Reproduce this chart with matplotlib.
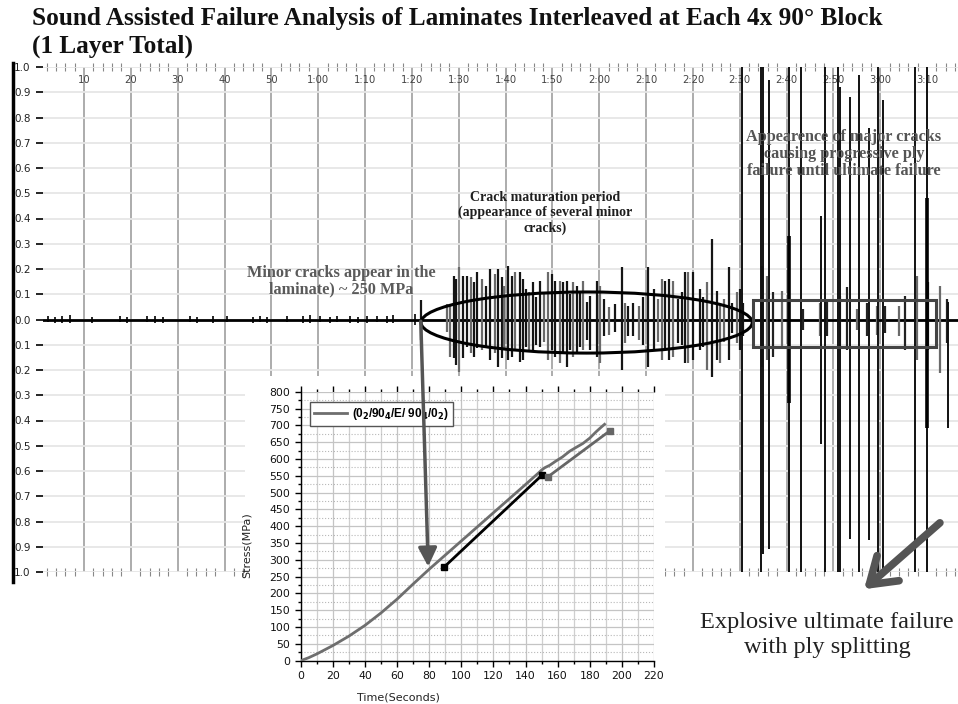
import matplotlib
matplotlib.use("Agg")
import matplotlib.pyplot as plt
from matplotlib.patches import Ellipse, Rectangle, ConnectionPatch, FancyArrowPatch
from matplotlib.lines import Line2D
from matplotlib.ticker import MultipleLocator

plt.rcParams["mathtext.default"] = "bf"

# ------------------------------------------------------------------ data
# main acoustic trace: spike time (s), positive and negative excursion
quiet_t = [2.3, 3.8, 5.3, 7.0, 11.7, 17.7, 19.2, 23.4, 25.1, 26.9, 32.6, 34.1, 37.5, 40.5, 46.1,
           47.6, 49.1, 53.3, 56.8, 58.2, 60.4, 62.5, 64.0, 66.8, 68.5, 70.4, 72.6, 74.7, 75.9, 80.7]
quiet_up = [0.012, 0.010, 0.014, 0.016, 0.010, 0.012, 0.010, 0.012, 0.014, 0.010, 0.012, 0.010, 0.014, 0.012, 0.010,
            0.012, 0.010, 0.012, 0.014, 0.016, 0.012, 0.010, 0.012, 0.012, 0.010, 0.014, 0.012, 0.012, 0.016, 0.020]
quiet_dn = [0.010, 0.012, 0.012, 0.014, 0.012, 0.010, 0.012, 0.010, 0.012, 0.012, 0.010, 0.012, 0.012, 0.010, 0.012,
            0.010, 0.012, 0.010, 0.012, 0.014, 0.010, 0.012, 0.010, 0.014, 0.012, 0.012, 0.010, 0.014, 0.014, 0.020]

crack_t = [81.9, 88.1, 88.9, 89.4, 90.1, 91.0, 91.7, 92.6, 93.3, 94.0, 94.9, 95.8, 96.7, 97.8, 98.3,
           99.2, 99.7, 100.6, 101.3, 102.0, 103.1, 103.7, 104.9, 105.9, 107.4, 109.1, 109.9, 110.6, 111.6, 112.3,
           113.1, 114.5, 115.2, 115.9, 116.6, 118.0, 119.5, 120.2, 121.0, 124.8, 125.5, 126.2, 127.3, 128.4, 130.5,
           131.6, 133.4, 134.1, 134.8, 135.7, 136.9, 138.3, 139.0, 140.1, 141.5, 143.0, 144.0, 145.1, 145.7, 147.6,
           148.3, 149.4, 150.1, 150.8,
           87.4, 104.3, 106.6, 108.2, 113.8, 117.3, 122.1, 123.4, 129.4, 132.5, 137.6, 142.2, 146.6]
crack_up = [0.076, 0.053, 0.173, 0.160, 0.207, 0.173, 0.173, 0.167, 0.147, 0.187, 0.160, 0.133, 0.200, 0.180, 0.200,
            0.167, 0.133, 0.213, 0.173, 0.187, 0.187, 0.160, 0.107, 0.147, 0.153, 0.187, 0.180, 0.153, 0.153, 0.147,
            0.153, 0.147, 0.133, 0.107, 0.153, 0.093, 0.153, 0.133, 0.080, 0.207, 0.067, 0.053, 0.067, 0.053, 0.207,
            0.120, 0.160, 0.153, 0.160, 0.153, 0.080, 0.187, 0.187, 0.187, 0.120, 0.147, 0.320, 0.113, 0.067, 0.207,
            0.067, 0.107, 0.120, 0.067,
            0.060, 0.120, 0.090, 0.110, 0.100, 0.070, 0.050, 0.060, 0.090, 0.080, 0.110, 0.090, 0.080]
crack_dn = [0.080, 0.147, 0.153, 0.180, 0.207, 0.153, 0.107, 0.133, 0.147, 0.113, 0.120, 0.107, 0.160, 0.133, 0.187,
            0.153, 0.120, 0.160, 0.147, 0.120, 0.167, 0.160, 0.127, 0.120, 0.107, 0.160, 0.120, 0.147, 0.173, 0.127,
            0.187, 0.147, 0.133, 0.107, 0.120, 0.120, 0.147, 0.173, 0.067, 0.200, 0.093, 0.067, 0.067, 0.080, 0.187,
            0.120, 0.160, 0.120, 0.160, 0.147, 0.093, 0.173, 0.173, 0.160, 0.120, 0.200, 0.227, 0.160, 0.173, 0.160,
            0.053, 0.093, 0.120, 0.067,
            0.050, 0.110, 0.100, 0.090, 0.120, 0.080, 0.060, 0.050, 0.100, 0.090, 0.100, 0.110, 0.090]

fail_small_t = [154.7, 155.8, 157.2, 159.0, 163.6, 167.2, 168.6, 171.4, 172.9, 175.1, 177.1, 179.3, 181.0, 183.9,
                185.3, 187.8, 190.3, 192.8, 194.2]
fail_small_up = [0.213, 0.173, 0.107, 0.113, 0.040, 0.067, 0.080, 0.093, 0.127, 0.040, 0.067, 0.053, 0.053, 0.053,
                 0.093, 0.173, 0.147, 0.133, 0.080]
fail_small_dn = [0.187, 0.160, 0.147, 0.107, 0.040, 0.067, 0.067, 0.107, 0.120, 0.040, 0.067, 0.060, 0.053, 0.067,
                 0.120, 0.160, 0.120, 0.213, 0.093]

fail_big_t = [150.5, 154.5, 154.9, 156.3, 160.6, 163.0, 167.4, 168.1, 170.9, 171.4, 173.6, 175.5, 177.6, 179.5,
              180.6, 187.4, 189.9, 194.4]
fail_big_up = [1.0, 1.0, 1.0, 0.948, 1.0, 1.0, 0.408, 1.0, 1.0, 0.920, 0.880, 0.968, 0.760, 1.0,
               0.868, 1.0, 1.0, 0.068]
fail_big_dn = [1.0, 1.0, 0.928, 0.908, 1.0, 1.0, 0.492, 1.0, 1.0, 1.0, 0.868, 1.0, 0.872, 1.0,
               1.0, 1.0, 1.0, 0.428]

burst_t = [160.6, 189.9]
burst_up = [0.33, 0.48]
burst_dn = [0.33, 0.43]

x_tick_pos = [10, 20, 30, 40, 50, 60, 70, 80, 90, 100, 110, 120, 130, 140, 150, 160, 170, 180, 190]
x_tick_labels = ["10", "20", "30", "40", "50", "1:00", "1:10", "1:20", "1:30", "1:40", "1:50",
                 "2:00", "2:10", "2:20", "2:30", "2:40", "2:50", "3:00", "3:10"]
y_tick_pos = [-1.0, -0.9, -0.8, -0.7, -0.6, -0.5, -0.4, -0.3, -0.2, -0.1, 0.0,
              0.1, 0.2, 0.3, 0.4, 0.5, 0.6, 0.7, 0.8, 0.9, 1.0]
y_tick_labels = ["1.0", "0.9", "0.8", "0.7", "0.6", "0.5", "0.4", "0.3", "0.2", "0.1", "0.0",
                 "0.1", "0.2", "0.3", "0.4", "0.5", "0.6", "0.7", "0.8", "0.9", "1.0"]

# highlighted regions (s, amplitude)
maturation_ellipse = {"t_center": 117.3, "y_center": -0.012, "t_width": 70.7, "y_height": 0.242}
failure_box = {"t0": 152.8, "t1": 191.8, "y0": -0.109, "y1": 0.077}

# inset: stress vs time
stress_time = [0, 5, 10, 20, 30, 40, 50, 60, 70, 80, 90, 100, 110, 120, 130, 140, 148, 150,
               152, 155, 159, 163, 167.5, 171, 175.7, 180, 184, 187, 189.2]
stress_mpa = [0, 9, 20, 45, 73, 105, 142, 183, 228, 272, 314, 356, 398, 440, 482, 524, 558, 567,
              574, 581, 594, 606, 623, 633, 646, 662, 681, 694, 703]
guide1_time = [89.1, 150.3]
guide1_stress = [277.6, 552.0]
guide2_time = [154.0, 192.3]
guide2_stress = [547.0, 683.0]
crack_onset_main = (81.9, -0.007)
crack_onset_inset = (79.4, 280.0)

# ------------------------------------------------------------------ figure
W, H, DPI = 958, 704, 100
fig = plt.figure(figsize=(W / DPI, H / DPI), dpi=DPI)
fig.patch.set_facecolor("white")


def fx(px):
    return px / W


def fy(py):
    return 1 - py / H


SERIF = ["Liberation Serif", "DejaVu Serif"]

ax = fig.add_axes([fx(43), fy(572), fx(958) - fx(43), fy(67) - fy(572)])
ax.set_zorder(1)
ax.set_xlim(1.24, 196.6)
ax.set_ylim(-1.0, 1.0)
for s in ax.spines.values():
    s.set_visible(False)

ax.set_xticks(x_tick_pos)
ax.set_xticklabels(x_tick_labels)
ax.set_yticks(y_tick_pos)
ax.set_yticklabels(y_tick_labels)
ax.xaxis.set_minor_locator(MultipleLocator(2))
ax.grid(axis="x", which="major", color="#a6a6a6", lw=1.3, zorder=0)
ax.grid(axis="y", which="major", color="#e6e6e6", lw=1.3, zorder=0)
ax.set_axisbelow(True)
ax.tick_params(axis="x", which="major", bottom=False, top=True, labelbottom=False, labeltop=True,
               length=0, pad=-13, labelsize=7.2, labelcolor="#444")
ax.tick_params(axis="x", which="minor", bottom=True, top=True, direction="inout", length=6,
               width=0.8, color="#888")
ax.tick_params(axis="y", which="major", left=True, direction="out", length=5, width=1.2,
               color="k", labelsize=7.5, pad=4, labelcolor="#222")

ax.axhline(0, color="k", lw=2, zorder=2)
ax.vlines(quiet_t, [-d for d in quiet_dn], quiet_up, colors="k", lw=1.2, zorder=3)
crack_colors = ["#6a6a6a" if i % 3 == 1 else "#151515" for i in range(len(crack_t))]
ax.vlines(crack_t, [-d for d in crack_dn], crack_up, colors=crack_colors, lw=1.6, zorder=3)
small_colors = ["#6a6a6a" if i % 2 else "#222222" for i in range(len(fail_small_t))]
ax.vlines(fail_small_t, [-d for d in fail_small_dn], fail_small_up, colors=small_colors, lw=1.6, zorder=3)
ax.vlines(fail_big_t, [-d for d in fail_big_dn], fail_big_up, colors="#111111", lw=1.4, zorder=3)
ax.vlines(burst_t, [-d for d in burst_dn], burst_up, colors="k", lw=2.6, zorder=3)

e = maturation_ellipse
ax.add_patch(Ellipse((e["t_center"], e["y_center"]), e["t_width"], e["y_height"],
                     fill=False, edgecolor="k", lw=2.2, zorder=4))
b = failure_box
ax.add_patch(Rectangle((b["t0"], b["y0"]), b["t1"] - b["t0"], b["y1"] - b["y0"],
                       fill=False, edgecolor="#444", lw=2.2, zorder=4))

# left frame line of the original graphic
fig.add_artist(Line2D([fx(12.5), fx(12.5)], [fy(63), fy(582)], transform=fig.transFigure,
                      color="k", lw=2.5, zorder=1))

# ------------------------------------------------------------------ texts
texts_to_fit = []
t1 = fig.text(fx(32), fy(19), "Sound Assisted Failure Analysis of Laminates Interleaved at Each 4x 90\u00b0 Block",
              family=SERIF, fontweight="bold", fontsize=16, va="center", ha="left", color="#111")
t2 = fig.text(fx(32), fy(46), "(1 Layer Total)", family=SERIF, fontweight="bold", fontsize=16,
              va="center", ha="left", color="#111")
texts_to_fit.append((t1, 850))

a1 = fig.text(fx(341), fy(281), "Minor cracks appear in the\nlaminate) ~ 250 MPa", family=SERIF,
              fontweight="bold", fontsize=11, ha="center", va="center", color="#5a5a5a",
              linespacing=1.0, zorder=6)
texts_to_fit.append((a1, 190))
a2 = fig.text(fx(545), fy(213), "Crack maturation period\n(appearance of several minor\ncracks)",
              family=SERIF, fontweight="bold", fontsize=9, ha="center", va="center", color="#1e1e1e",
              linespacing=1.15, zorder=6)
texts_to_fit.append((a2, 172))
a3 = fig.text(fx(844), fy(154), "Appearence of major cracks\ncausing progressive ply\nfailure until ultimate failure",
              family=SERIF, fontweight="bold", fontsize=11, ha="center", va="center", color="#555",
              linespacing=1.05, zorder=6)
texts_to_fit.append((a3, 196))
a4 = fig.text(fx(827), fy(635), "Explosive ultimate failure\nwith ply splitting", family=SERIF,
              fontsize=15, ha="center", va="center", color="#222", linespacing=1.2, zorder=6)
texts_to_fit.append((a4, 255))

# ------------------------------------------------------------------ inset
fig.add_artist(Rectangle((fx(245), fy(704)), fx(665) - fx(245), fy(376) - fy(704),
                         transform=fig.transFigure, facecolor="white", edgecolor="none", zorder=2))
ins = fig.add_axes([fx(300.7), fy(660.7), fx(654) - fx(300.7), fy(391.7) - fy(660.7)])
ins.set_zorder(3)
ins.set_xlim(0, 220)
ins.set_ylim(0, 800)
ins.xaxis.set_major_locator(MultipleLocator(20))
ins.xaxis.set_minor_locator(MultipleLocator(10))
ins.yaxis.set_major_locator(MultipleLocator(50))
ins.yaxis.set_minor_locator(MultipleLocator(25))
ins.grid(which="major", color="#c4c4c4", lw=0.9)
ins.grid(which="minor", axis="x", color="#cfcfcf", lw=0.9)
ins.grid(which="minor", axis="y", color="#b8b8b8", lw=0.8, ls=":")
ins.set_axisbelow(True)
ins.spines["top"].set_visible(False)
ins.spines["right"].set_visible(False)
ins.spines["left"].set_linewidth(1.0)
ins.spines["bottom"].set_linewidth(1.0)
ins.tick_params(which="both", direction="out", labelsize=7.8, width=1.0, labelcolor="#111")
ins.tick_params(which="major", length=4)
ins.tick_params(which="minor", length=2.5)
ins.tick_params(axis="x", which="both", top=True)
ins.tick_params(axis="x", which="both", labeltop=False)

ins.plot(stress_time, stress_mpa, color="#6e6e6e", lw=2, zorder=3,
         label="(0$_2$/90$_4$/E/ 90$_4$/0$_2$)")
ins.plot(guide1_time, guide1_stress, color="k", lw=2, marker="s", ms=5, zorder=4)
ins.plot(guide2_time, guide2_stress, color="#666", lw=2, marker="s", ms=5, zorder=4)

leg = ins.legend(loc="upper left", bbox_to_anchor=(0.01, 0.985), fancybox=False, framealpha=1,
                 edgecolor="#555", prop={"weight": "bold", "size": 8.5, "family": "Liberation Sans"},
                 handlelength=2.8, borderpad=0.35, handletextpad=0.4)
leg.get_frame().set_linewidth(1.0)

ins.set_xlabel("Time(Seconds)", fontsize=8, color="#222")
ins.set_ylabel("Stress(MPa)", fontsize=8, color="#222")
ins.xaxis.set_label_coords((398 - 300.7) / 353.3, (660.7 - 693) / 269)
ins.yaxis.set_label_coords((252 - 300.7) / 353.3, (660.7 - 545) / 269)

# arrow from crack onset in the acoustic trace to the stress curve
con = ConnectionPatch(xyA=crack_onset_main, coordsA="data", axesA=ax,
                      xyB=crack_onset_inset, coordsB="data", axesB=ins,
                      arrowstyle="-|>,head_length=0.7,head_width=0.35", mutation_scale=16,
                      color="#555", lw=2.5, zorder=5)
fig.add_artist(con)

# big arrow pointing at failure
big = FancyArrowPatch((fx(942), fy(521)), (fx(862), fy(591)), transform=fig.transFigure,
                      arrowstyle="->,head_length=0.9,head_width=0.6", mutation_scale=20,
                      color="#555", lw=5.5, zorder=6)
fig.add_artist(big)

# fit text widths to the reference layout
fig.canvas.draw()
r = fig.canvas.get_renderer()
for t, target in texts_to_fit:
    bb = t.get_window_extent(renderer=r)
    t.set_fontsize(t.get_fontsize() * target / bb.width)
t2.set_fontsize(t1.get_fontsize())

fig.savefig("out.png", dpi=DPI, facecolor="white")
